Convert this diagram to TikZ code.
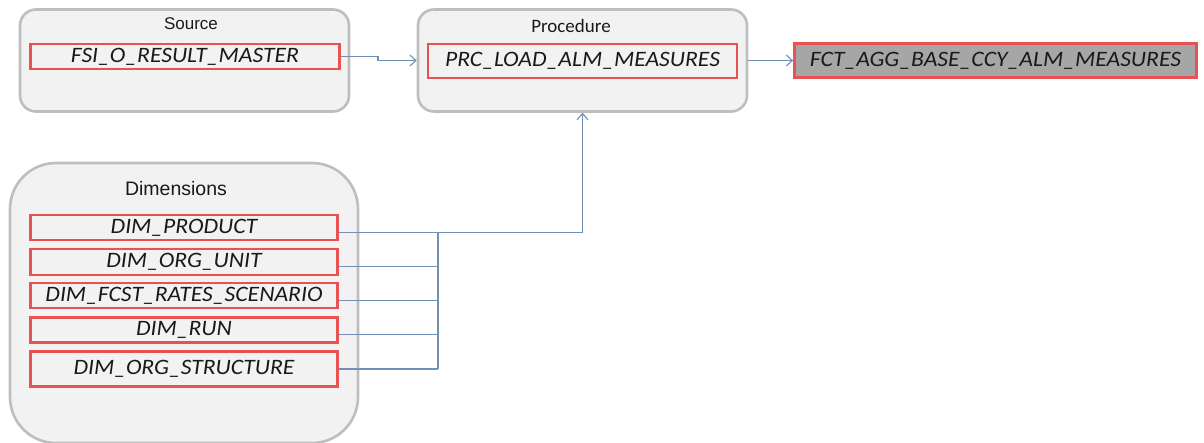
\documentclass[tikz,border=0pt]{standalone}
\usepackage{fontspec}
\usepackage{graphicx}
\setmainfont{Carlito}
\newfontfamily\arialf{Liberation Sans}
\usetikzlibrary{arrows.meta}
\definecolor{contfill}{RGB}{242,242,242}
\definecolor{contline}{RGB}{190,190,190}
\definecolor{redline}{RGB}{232,82,82}
\definecolor{conn}{RGB}{110,145,180}
\definecolor{txt}{RGB}{25,25,25}
\definecolor{fctfill}{RGB}{166,166,166}
\newcommand\itx[1]{\scalebox{1.075}[1]{#1}}
\tikzset{
  container/.style={draw=contline, fill=contfill, line width=2.6pt, rectangle, inner sep=0pt},
  title/.style={text=txt, inner sep=0pt, anchor=center},
  item/.style={draw=redline, fill=contfill, line width=2.8pt, rectangle, inner sep=0pt,
    text=txt, font=\fontsize{22}{26}\selectfont\itshape},
  connector/.style={draw=conn, line width=1.1pt},
  arr/.style={-{Straight Barb[length=6pt,width=11pt,line width=1.1pt]}}
}
\begin{document}
\begin{tikzpicture}[x=1pt,y=-1pt]
\useasboundingbox (0,0) rectangle (1204,442);
% containers
\node[container, rounded corners=16pt, minimum width=329pt, minimum height=102pt] (src) at (184.5,60.5) {};
\node[container, rounded corners=16pt, minimum width=329pt, minimum height=102pt] (prc) at (582.5,60.5) {};
\node[container, rounded corners=46pt, minimum width=348pt, minimum height=280pt] (dim) at (184,303) {};
% titles
\node[title, font=\arialf\fontsize{17}{20}\selectfont] (srcT) at (191,24) {Source};
\node[title, font=\fontsize{19}{22}\selectfont] (prcT) at (571,26) {Procedure};
\node[title, font=\arialf\fontsize{19.5}{22}\selectfont] (dimT) at (176,189) {Dimensions};
% items
\node[item, minimum width=309pt, minimum height=25pt] (srcB) at (185,56.5) {\itx{FSI\_O\_RESULT\_MASTER}};
\node[item, minimum width=309pt, minimum height=34pt] (prcB) at (582.5,61) {\itx{PRC\_LOAD\_ALM\_MEASURES}};
\node[item, fill=fctfill, minimum width=402pt, minimum height=34pt] (fct) at (995.5,60.5) {\itx{FCT\_AGG\_BASE\_CCY\_ALM\_MEASURES}};
\node[item, minimum width=307pt, minimum height=25pt] (d1) at (184,227.5) {\itx{DIM\_PRODUCT}};
\node[item, minimum width=307pt, minimum height=26pt] (d2) at (184,262) {\itx{DIM\_ORG\_UNIT}};
\node[item, minimum width=307pt, minimum height=25pt] (d3) at (184,295.5) {\itx{DIM\_FCST\_RATES\_SCENARIO}};
\node[item, minimum width=307pt, minimum height=25pt] (d4) at (184,330) {\itx{DIM\_RUN}};
\node[item, minimum width=307pt, minimum height=35pt] (d5) at (184,369) {\itx{DIM\_ORG\_STRUCTURE}};
% connectors
\coordinate (jog) at (378,56.5);
\coordinate (busT) at (438,232.5);
\coordinate (busB) at (438,368.5);
\draw[connector, arr] (srcB.east) -- (jog) |- (prc.west);
\draw[connector, arr] (prc.east) -- (fct.west);
\draw[connector] ([yshift=-5pt]d1.east) -- ([yshift=-5pt]d1.east -| busT);
\draw[connector] ([yshift=-4.3pt]d2.east) -- ([yshift=-4.3pt]d2.east -| busT);
\draw[connector] ([yshift=-5pt]d3.east) -- ([yshift=-5pt]d3.east -| busT);
\draw[connector] ([yshift=-4.3pt]d4.east) -- ([yshift=-4.3pt]d4.east -| busT);
\draw[connector] (d5.east) -- (d5.east -| busT);
\draw[connector] (busT) -- (busB);
\draw[connector, arr] (busT) -| (prc.south);
\end{tikzpicture}
\end{document}
